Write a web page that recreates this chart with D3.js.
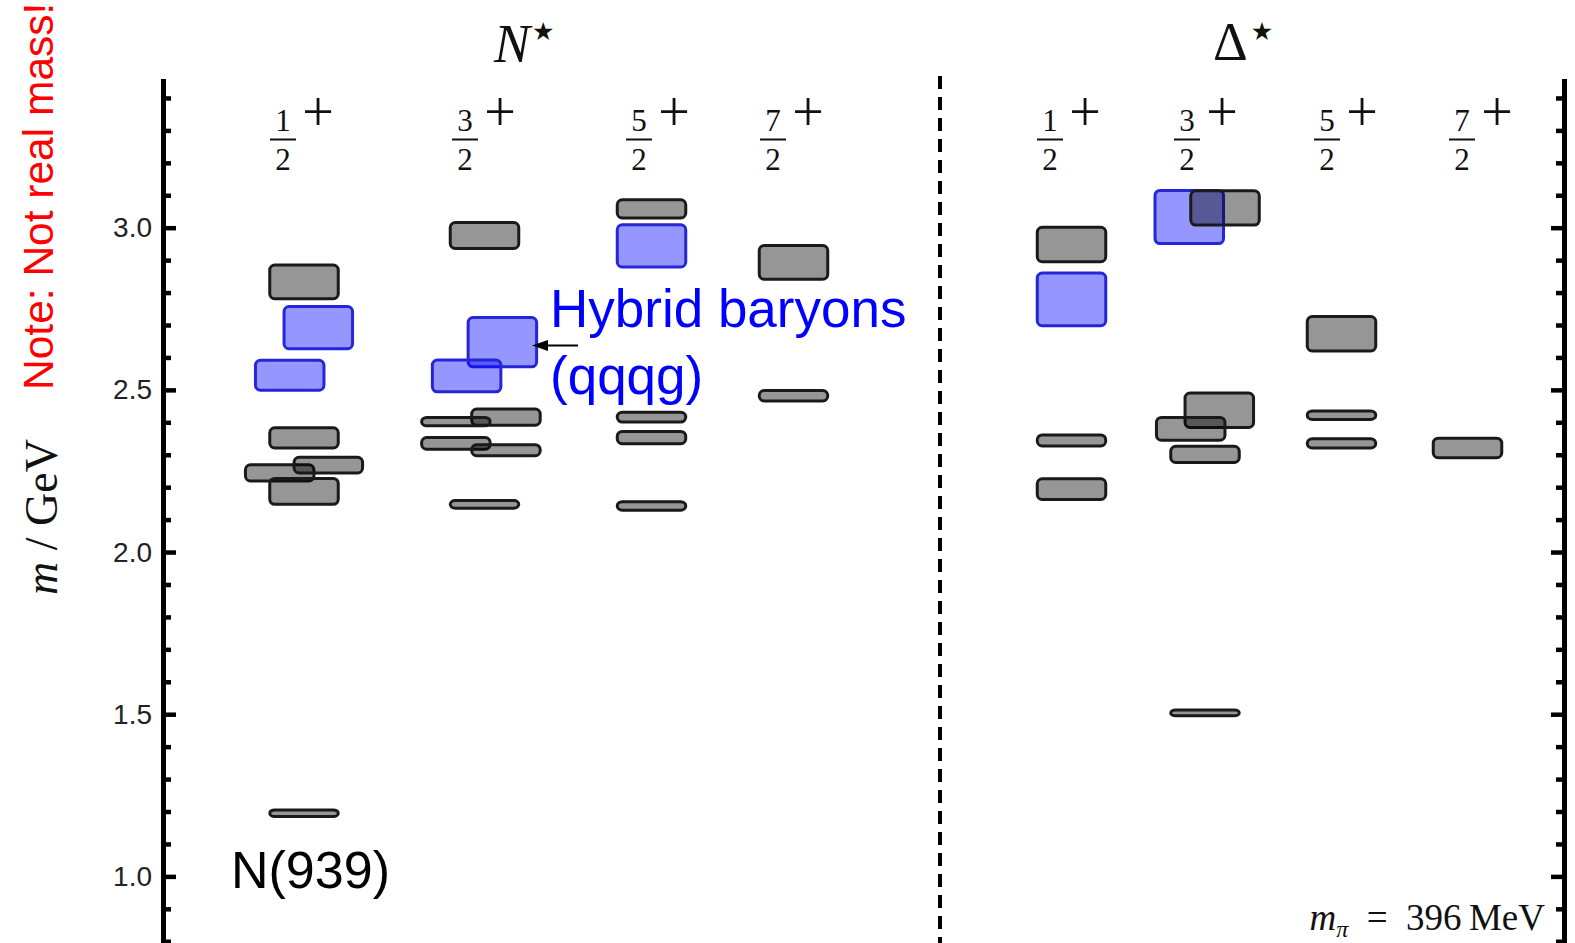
<!DOCTYPE html>
<html>
<head>
<meta charset="utf-8">
<script src="https://cdn.jsdelivr.net/npm/d3@7"></script>
<style>
  body { margin: 0; background: #fff; }
  svg { display: block; }
</style>
</head>
<body>
<div id="chart"></div>
<script>
// spectrum data: mass (GeV), half-width of the box (GeV), hybrid flag, sideways nudge (in box widths)
var nHalf = [
  {m: 2.833, e: 0.052, hyb: 0, dx: 0},
  {m: 2.692, e: 0.065, hyb: 1, dx: 0.2},
  {m: 2.545, e: 0.046, hyb: 1, dx: -0.2},
  {m: 2.352, e: 0.031, hyb: 0, dx: 0},
  {m: 2.244, e: 0.025, hyb: 0, dx: -0.34},
  {m: 2.268, e: 0.024, hyb: 0, dx: 0.34},
  {m: 2.187, e: 0.040, hyb: 0, dx: 0},
  {m: 1.195, e: 0.010, hyb: 0, dx: 0}
];
var nThreeHalf = [
  {m: 2.976, e: 0.040, hyb: 0, dx: 0},
  {m: 2.647, e: 0.076, hyb: 1, dx: 0.25},
  {m: 2.543, e: 0.049, hyb: 1, dx: -0.25},
  {m: 2.416, e: 0.025, hyb: 0, dx: 0.3},
  {m: 2.402, e: 0.013, hyb: 0, dx: -0.4},
  {m: 2.335, e: 0.018, hyb: 0, dx: -0.4},
  {m: 2.314, e: 0.017, hyb: 0, dx: 0.3},
  {m: 2.147, e: 0.012, hyb: 0, dx: 0}
];
var nFiveHalf = [
  {m: 3.058, e: 0.028, hyb: 0, dx: 0},
  {m: 2.944, e: 0.065, hyb: 1, dx: 0},
  {m: 2.416, e: 0.015, hyb: 0, dx: 0},
  {m: 2.353, e: 0.019, hyb: 0, dx: 0},
  {m: 2.142, e: 0.013, hyb: 0, dx: 0}
];
var nSevenHalf = [
  {m: 2.893, e: 0.052, hyb: 0, dx: 0},
  {m: 2.482, e: 0.016, hyb: 0, dx: 0}
];
var dHalf = [
  {m: 2.948, e: 0.053, hyb: 0, dx: 0},
  {m: 2.779, e: 0.081, hyb: 1, dx: 0},
  {m: 2.344, e: 0.017, hyb: 0, dx: 0},
  {m: 2.194, e: 0.032, hyb: 0, dx: 0}
];
var dThreeHalf = [
  {m: 3.033, e: 0.082, hyb: 1, dx: -0.22},
  {m: 3.061, e: 0.053, hyb: 0, dx: 0.28},
  {m: 2.437, e: 0.053, hyb: 0, dx: 0.2},
  {m: 2.380, e: 0.035, hyb: 0, dx: -0.2},
  {m: 2.301, e: 0.025, hyb: 0, dx: 0},
  {m: 1.504, e: 0.009, hyb: 0, dx: 0}
];
var dFiveHalf = [
  {m: 2.673, e: 0.053, hyb: 0, dx: 0},
  {m: 2.422, e: 0.013, hyb: 0, dx: 0},
  {m: 2.335, e: 0.014, hyb: 0, dx: 0}
];
var dSevenHalf = [
  {m: 2.321, e: 0.030, hyb: 0, dx: 0}
];

var sectors = ["N", "Δ"];
var numerators = ["1", "3", "5", "7"];
var majorTicks = [1.0, 1.5, 2.0, 2.5, 3.0];
var minorTicks = [0.8, 0.9, 1.1, 1.2, 1.3, 1.4, 1.6, 1.7, 1.8, 1.9, 2.1, 2.2, 2.3, 2.4, 2.6, 2.7, 2.8, 2.9, 3.1, 3.2, 3.3, 3.4];

var columns = [
  {id: "N1", sector: "N", num: numerators[0], states: nHalf},
  {id: "N3", sector: "N", num: numerators[1], states: nThreeHalf},
  {id: "N5", sector: "N", num: numerators[2], states: nFiveHalf},
  {id: "N7", sector: "N", num: numerators[3], states: nSevenHalf},
  {id: "D1", sector: "Δ", num: numerators[0], states: dHalf},
  {id: "D3", sector: "Δ", num: numerators[1], states: dThreeHalf},
  {id: "D5", sector: "Δ", num: numerators[2], states: dFiveHalf},
  {id: "D7", sector: "Δ", num: numerators[3], states: dSevenHalf}
];

var width = 1575, height = 943;
var serif = "'Liberation Serif', 'Times New Roman', serif";
var sans = "'Liberation Sans', Arial, sans-serif";

var svg = d3.select("#chart").append("svg")
  .attr("width", width)
  .attr("height", height);

// scales
var y = d3.scaleLinear().domain([0.79, 3.46]).range([944.5, 78.5]);
var colX = d3.scaleOrdinal()
  .domain(columns.map(function(c){ return c.id; }))
  .range([304, 484.5, 651.5, 793.5, 1071.5, 1205, 1341.5, 1467.5]);
var labelX = d3.scaleOrdinal()
  .domain(columns.map(function(c){ return c.id; }))
  .range([283, 465, 639, 773, 1050, 1187, 1327, 1462]);
var boxW = 68.5;
var shift = d3.scaleLinear().domain([-1, 1]).range([-boxW - 3, boxW + 3]);

var axisL = 163, axisR = 1564;

// left axis
var gMinorL = svg.append("g").attr("transform", "translate(" + axisL + ",0)")
  .call(d3.axisLeft(y).tickValues(minorTicks).tickSizeInner(-8).tickSizeOuter(0).tickFormat(""));
var gMajorL = svg.append("g").attr("transform", "translate(" + axisL + ",0)")
  .call(d3.axisLeft(y).tickValues(majorTicks).tickSizeInner(-13).tickSizeOuter(0)
    .tickPadding(11).tickFormat(d3.format(".1f")));
// right axis
var gMinorR = svg.append("g").attr("transform", "translate(" + axisR + ",0)")
  .call(d3.axisRight(y).tickValues(minorTicks).tickSizeInner(-8).tickSizeOuter(0).tickFormat(""));
var gMajorR = svg.append("g").attr("transform", "translate(" + axisR + ",0)")
  .call(d3.axisRight(y).tickValues(majorTicks).tickSizeInner(-13).tickSizeOuter(0).tickFormat(""));

[gMinorL, gMajorL, gMinorR, gMajorR].forEach(function(g){
  g.select(".domain").attr("stroke", "#000").attr("stroke-width", 5);
  g.selectAll(".tick line").attr("stroke", "#000").attr("stroke-width", 4.5);
});
gMajorL.selectAll(".tick text")
  .attr("font-family", sans)
  .attr("font-size", 28)
  .attr("fill", "#222");

// separator between N* and Δ*
svg.append("line")
  .attr("x1", 940).attr("x2", 940)
  .attr("y1", 76).attr("y2", height)
  .attr("stroke", "#000")
  .attr("stroke-width", 4)
  .attr("stroke-dasharray", "13,8");

// sector titles
var titles = svg.append("g").attr("font-family", serif).attr("font-size", 54).attr("fill", "#111");
var tN = titles.append("text").attr("x", 494).attr("y", 62);
tN.append("tspan").attr("font-style", "italic").text(sectors[0]);
tN.append("tspan").attr("font-family", "'DejaVu Sans'").attr("font-size", 25).attr("dy", -22).attr("dx", 2).text("★");
var tD = titles.append("text").attr("x", 1213).attr("y", 60);
tD.append("tspan").text(sectors[1]);
tD.append("tspan").attr("font-family", "'DejaVu Sans'").attr("font-size", 25).attr("dy", -20).attr("dx", 3).text("★");

// J^P labels
var lab = svg.selectAll(".jp").data(columns).enter().append("g")
  .attr("class", "jp")
  .attr("font-family", serif)
  .attr("fill", "#111");
lab.append("text")
  .attr("x", function(d){ return labelX(d.id); })
  .attr("y", 131)
  .attr("text-anchor", "middle")
  .attr("font-size", 31)
  .text(function(d){ return d.num; });
lab.append("line")
  .attr("x1", function(d){ return labelX(d.id) - 13; })
  .attr("x2", function(d){ return labelX(d.id) + 13; })
  .attr("y1", 139.5).attr("y2", 139.5)
  .attr("stroke", "#111").attr("stroke-width", 2);
lab.append("text")
  .attr("x", function(d){ return labelX(d.id); })
  .attr("y", 170)
  .attr("text-anchor", "middle")
  .attr("font-size", 31)
  .text("2");
lab.append("text")
  .attr("x", function(d){ return labelX(d.id) + 35; })
  .attr("y", 131)
  .attr("text-anchor", "middle")
  .attr("font-size", 56)
  .text("+");

// the boxes
var cols = svg.selectAll(".col").data(columns).enter().append("g").attr("class", "col");
cols.selectAll("rect")
  .data(function(d){ return d.states.map(function(s){ return {col: d.id, s: s}; }); })
  .enter().append("rect")
  .attr("x", function(d){ return colX(d.col) + shift(d.s.dx) - boxW / 2; })
  .attr("y", function(d){ return y(d.s.m + d.s.e); })
  .attr("width", boxW)
  .attr("height", function(d){ return y(d.s.m - d.s.e) - y(d.s.m + d.s.e); })
  .attr("rx", 5).attr("ry", 5)
  .attr("fill", function(d){ return d.s.hyb ? "#0000ff" : "#000"; })
  .attr("fill-opacity", 0.41)
  .attr("stroke", function(d){ return d.s.hyb ? "#2626d9" : "#1a1a1a"; })
  .attr("stroke-width", 3);

// annotations
svg.append("text")
  .attr("transform", "translate(53,390) rotate(-90)")
  .attr("font-family", sans)
  .attr("font-size", 42.5)
  .attr("fill", "#ff0000")
  .text("Note: Not real mass!");

var yl = svg.append("text")
  .attr("transform", "translate(57,517) rotate(-90)")
  .attr("text-anchor", "middle")
  .attr("font-family", serif)
  .attr("font-size", 46)
  .attr("fill", "#111");
yl.append("tspan").attr("font-style", "italic").text("m");
yl.append("tspan").text(" / GeV");

svg.append("text")
  .attr("x", 231).attr("y", 888)
  .attr("font-family", sans)
  .attr("font-size", 52)
  .attr("fill", "#000")
  .text("N(939)");

var hy = svg.append("g").attr("font-family", sans).attr("font-size", 53).attr("fill", "#0000ff");
hy.append("text").attr("x", 550).attr("y", 327).text("Hybrid baryons");
hy.append("text").attr("x", 550).attr("y", 393.5).text("(qqqg)");

svg.append("line")
  .attr("x1", 578).attr("x2", 546)
  .attr("y1", 345.5).attr("y2", 345.5)
  .attr("stroke", "#000").attr("stroke-width", 2);
svg.append("path")
  .attr("d", "M532,345.5L548,340L548,351Z")
  .attr("fill", "#000");

var mp = svg.append("text")
  .attr("x", 1545).attr("y", 930)
  .attr("text-anchor", "end")
  .attr("font-family", serif)
  .attr("font-size", 37)
  .attr("fill", "#111");
mp.append("tspan").attr("font-style", "italic").text("m");
mp.append("tspan").attr("font-style", "italic").attr("font-size", 24).attr("dy", 7).text("π");
mp.append("tspan").attr("dy", -7).text("\u2002=\u2002396\u2009MeV");
</script>
</body>
</html>
